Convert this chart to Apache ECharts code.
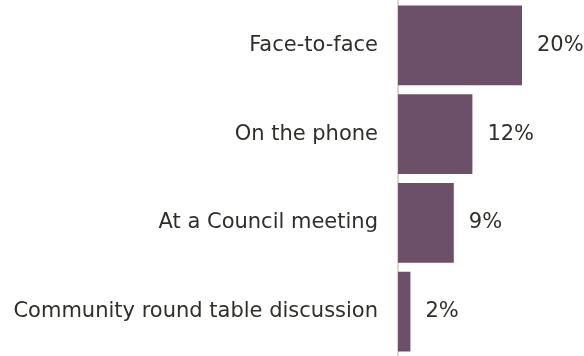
<!DOCTYPE html>
<html>
<head>
<meta charset="utf-8">
<script src="https://cdn.jsdelivr.net/npm/echarts@6/dist/echarts.min.js"></script>
<style>
  html, body { margin: 0; padding: 0; background: #ffffff; }
  #chart { width: 584px; height: 356px; }
</style>
</head>
<body>
<div id="chart"></div>
<script>
// Survey responses: preferred ways of engaging with the Council
const categories = [
  'Face-to-face',
  'On the phone',
  'At a Council meeting',
  'Community round table discussion'
];
const shares = [20, 12, 9, 2];

const chart = echarts.init(document.getElementById('chart'), null, { renderer: 'canvas' });

const textStyle = {
  color: '#2f2f2a',
  fontSize: 21,
  fontFamily: '"DejaVu Sans", sans-serif'
};

chart.setOption({
  animation: false,
  backgroundColor: '#ffffff',
  grid: { left: 398, top: 1, width: 124, height: 358, containLabel: false },
  xAxis: {
    type: 'value',
    min: 0,
    max: 20,
    show: false
  },
  yAxis: {
    type: 'category',
    inverse: true,
    data: categories,
    axisLine: { show: true, lineStyle: { color: '#d8d6d0', width: 2 } },
    axisTick: { show: false },
    axisLabel: Object.assign({ margin: 20 }, textStyle)
  },
  series: [{
    type: 'bar',
    data: shares,
    barCategoryGap: '10%',
    itemStyle: { color: '#6c506a' },
    label: Object.assign({
      show: true,
      position: 'right',
      distance: 15,
      formatter: p => p.value + '%'
    }, textStyle)
  }]
});
</script>
</body>
</html>
